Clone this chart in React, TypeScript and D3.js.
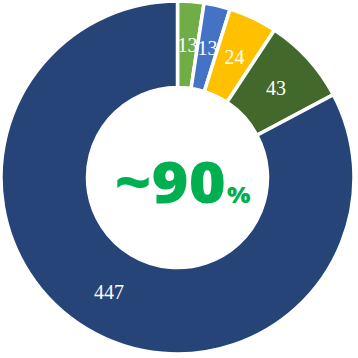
import React from "react";
import * as d3 from "d3";

const categories = ["A", "B", "C", "D", "E"];
const values = [13, 13, 24, 43, 447];
const colors = ["#70ad47", "#4472c4", "#ffc000", "#43682b", "#264478"];
const centerMain = "~90";
const centerUnit = "%";

const W = 358;
const H = 358;
const cx = 177.5;
const cy = 177.5;
const outerR = 176.5;
const innerR = 90;

export default function App() {
  const pie = d3
    .pie<number>()
    .sort(null)
    .value((d) => d);
  const arcs = pie(values);
  const arc = d3.arc<d3.PieArcDatum<number>>().innerRadius(innerR).outerRadius(outerR);

  return (
    <svg
      width={W}
      height={H}
      style={{ position: "fixed", left: 0, top: 0, background: "#fff" }}
    >
      <g transform={`translate(${cx},${cy})`}>
        {arcs.map((a, i) => (
          <path
            key={categories[i]}
            d={arc(a) || ""}
            fill={colors[i]}
            stroke="#fff"
            strokeWidth={3.5}
            strokeLinejoin="miter"
          />
        ))}
        {arcs.map((a, i) => {
          const [x, y] = arc.centroid(a);
          return (
            <text
              key={"l" + categories[i]}
              x={x}
              y={y}
              dy="0.35em"
              textAnchor="middle"
              fill="#fff"
              fontFamily="'Liberation Serif', 'Times New Roman', serif"
              fontSize={20}
            >
              {values[i]}
            </text>
          );
        })}
        <g transform="translate(5,25) scale(1.13,1)">
          <text
            x={0}
            y={0}
            textAnchor="middle"
            fill="#00b050"
            fontFamily="'Open Sans', sans-serif"
            fontWeight={800}
          >
            <tspan fontSize={56}>{centerMain}</tspan>
            <tspan fontSize={22} dx={1}>{centerUnit}</tspan>
          </text>
        </g>
      </g>
    </svg>
  );
}
